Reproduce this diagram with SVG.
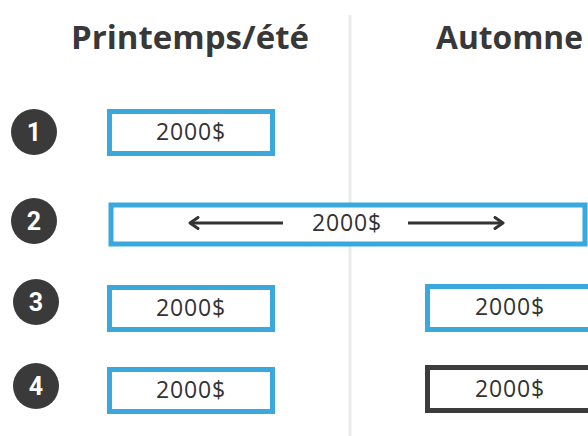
<svg xmlns="http://www.w3.org/2000/svg" width="588" height="436" viewBox="0 0 588 436">
<defs>
<style>
.title{font-family:"Open Sans","Liberation Sans",sans-serif;font-weight:700;font-size:33px;fill:#383838}
.num{font-family:Roboto,"Liberation Sans",sans-serif;font-weight:700;font-size:25px;fill:#fff;text-anchor:middle}
.amt{font-family:"Open Sans","Liberation Sans",sans-serif;font-size:23px;fill:#333;text-anchor:middle;letter-spacing:0.8px}
.blue{fill:#fff;stroke:#3aa8dc;stroke-width:5}
.dark{fill:#fff;stroke:#3c3c3c;stroke-width:5}
.circ{fill:#3a3a3a}
.arrow{stroke:#333;stroke-width:3.2;fill:none}
</style>
<marker id="head" viewBox="0 0 14 14" refX="12" refY="7" markerWidth="14" markerHeight="14" markerUnits="userSpaceOnUse" orient="auto">
<polyline points="4,1.5 12,7 4,12.5" fill="none" stroke="#333" stroke-width="3" stroke-linecap="round" stroke-linejoin="round"/>
</marker>
</defs>
<rect width="588" height="436" fill="#fff"/>
<line x1="350" y1="15" x2="350" y2="436" stroke="#ebebeb" stroke-width="3"/>
<text class="title" x="190" y="49" text-anchor="middle">Printemps/été</text>
<text class="title" x="436" y="49" textLength="147" lengthAdjust="spacingAndGlyphs">Automne</text>
<g id="n1"><circle class="circ" cx="34" cy="132" r="23"/><text class="num" x="34" y="141">1</text></g>
<g id="n2"><circle class="circ" cx="34" cy="221" r="23"/><text class="num" x="34" y="230">2</text></g>
<g id="n3"><circle class="circ" cx="36" cy="302" r="23"/><text class="num" x="36" y="311">3</text></g>
<g id="n4"><circle class="circ" cx="36" cy="386" r="23"/><text class="num" x="36" y="395">4</text></g>
<g id="box1"><rect class="blue" x="109.5" y="111.5" width="163" height="42"/><text class="amt" x="191" y="140">2000$</text></g>
<g id="box2"><rect class="blue" x="111" y="205" width="474" height="39" stroke-width="6"/><text class="amt" x="347" y="231">2000$</text></g>
<g id="box3"><rect class="blue" x="109.5" y="287.5" width="163" height="42"/><text class="amt" x="191" y="316">2000$</text></g>
<g id="box4"><rect class="blue" x="109.5" y="369.5" width="163" height="42"/><text class="amt" x="191" y="398">2000$</text></g>
<g id="box3r"><rect class="blue" x="427.5" y="286.5" width="163" height="43"/><text class="amt" x="510" y="315">2000$</text></g>
<g id="box4r"><rect class="dark" x="427.5" y="367.5" width="163" height="43"/><text class="amt" x="510" y="397">2000$</text></g>
<g id="connectors">
<line class="arrow" x1="283" y1="223" x2="190" y2="223" marker-end="url(#head)"/>
<line class="arrow" x1="408" y1="223" x2="503" y2="223" marker-end="url(#head)"/>
</g>
</svg>
